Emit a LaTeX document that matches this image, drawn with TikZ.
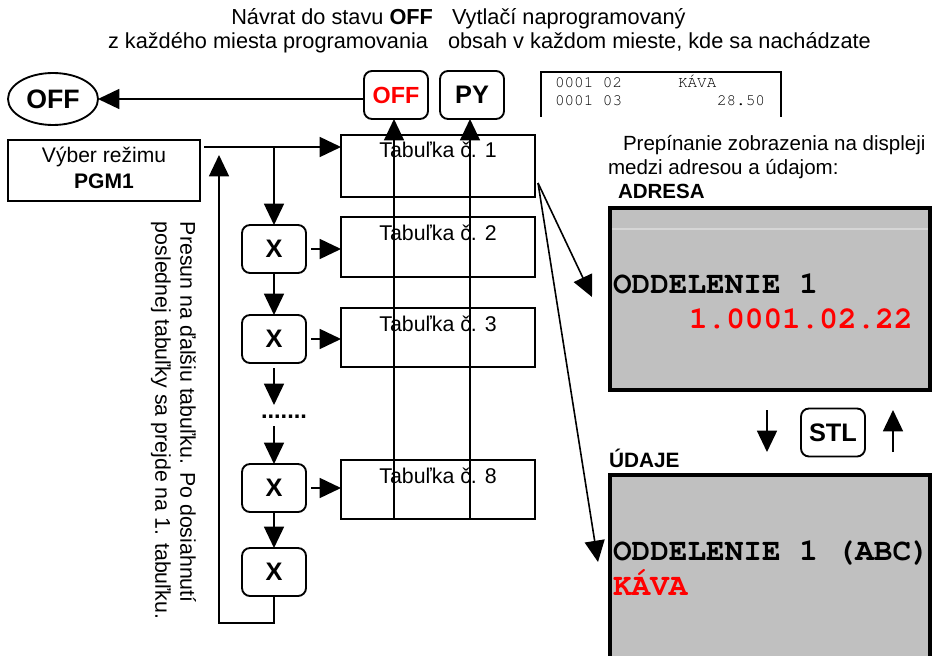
\documentclass[tikz,border=0pt]{standalone}
\usepackage[T1]{fontenc}
\usepackage{fontspec}
\setmainfont{Liberation Sans}
\usetikzlibrary{arrows.meta,shapes.geometric}
\definecolor{lcdgray}{HTML}{C0C0C0}
\definecolor{keyred}{HTML}{FF0000}
\newcommand{\courbold}{\fontencoding{T1}\fontfamily{pcr}\fontseries{b}\selectfont}
\newcommand{\courreg}{\fontencoding{T1}\fontfamily{pcr}\fontseries{m}\selectfont}
\begin{document}
\begin{tikzpicture}[x=0.75pt,y=-0.75pt,
  every node/.style={inner sep=0pt, outer sep=0pt},
  box/.style={draw, line width=1.4pt, rectangle},
  btn/.style={draw, line width=1.4pt, rounded corners=6pt, minimum width=48pt, minimum height=36pt, font=\fontsize{19}{22}\selectfont\bfseries},
  arr/.style={line width=1.2pt, -{Triangle[length=16pt,width=15pt]}},
  txt/.style={font=\fontsize{16.3}{19}\selectfont},
  txtr/.style={font=\fontsize{15.4}{18}\selectfont},
  tabtxt/.style={font=\fontsize{16}{19}\selectfont},
  lcd/.style={draw, line width=3pt, fill=lcdgray, rectangle},
  lcdtxt/.style={font=\courbold\fontsize{23.3}{26}\selectfont},
  smalltxt/.style={font=\courreg\fontsize{12}{13}\selectfont},
]
\useasboundingbox (0,0) rectangle (932,656);
\clip (0,0) rectangle (932,656);

% top explanations
\node[txt, anchor=base east] (t1) at (433,25) {Návrat do stavu \textbf{OFF}};
\node[txt, anchor=base west] (t2) at (108,49) {z každého miesta programovania};
\node[txt, anchor=base west] (t3) at (452,25) {Vytlačí naprogramovaný};
\node[txt, anchor=base west] (t4) at (448,49) {obsah v každom mieste, kde sa nachádzate};

% OFF ellipse and keys
\node[ellipse, draw, line width=1.4pt, minimum width=67.5pt, minimum height=39pt,
      font=\fontsize{20}{24}\selectfont\bfseries] (offell) at (53,99) {OFF};
\node[btn, text=keyred, font=\fontsize{17.5}{20}\selectfont\bfseries] (offbtn) at (396,95) {OFF};
\node[btn] (py) at (472,95) {PY};
\draw[arr] (offbtn.west |- offell.east) -- (offell.east);

% small printout
\draw[line width=1.3pt] (541,117) -- (541,72) -- (781,72) -- (781,117);
\node[smalltxt, anchor=base west] (p1) at (555,88) {0001 02};
\node[smalltxt, anchor=base west] (p2) at (678,88) {KÁVA};
\node[smalltxt, anchor=base west] (p3) at (555,106) {0001 03};
\node[smalltxt, anchor=base east] (p4) at (765,106) {28.50};

% mode box
\node[box, minimum width=144pt, minimum height=46pt] (vyber) at (104,170.5) {};
\node[txt, font=\fontsize{15.8}{19}\selectfont, anchor=base] (vy1) at (104,163) {Výber režimu};
\node[txt, font=\fontsize{15.8}{19}\selectfont\bfseries, anchor=base] (vy2) at (104,189) {PGM1};

% tables
\node[box, minimum width=145.5pt, minimum height=46.5pt] (tab1) at (438,166) {};
\node[tabtxt, anchor=base] (tl1) at (438,158) {Tabuľka č. 1};
\node[box, minimum width=145.5pt, minimum height=45pt] (tab2) at (438,247) {};
\node[tabtxt, anchor=base] (tl2) at (438,240) {Tabuľka č. 2};
\node[box, minimum width=145.5pt, minimum height=44.5pt] (tab3) at (438,337.5) {};
\node[tabtxt, anchor=base] (tl3) at (438,331) {Tabuľka č. 3};
\node[box, minimum width=145.5pt, minimum height=44.5pt] (tab8) at (438,489.5) {};
\node[tabtxt, anchor=base] (tl8) at (438,483) {Tabuľka č. 8};

% X keys
\node[btn] (x1) at (274,249) {X};
\node[btn] (x2) at (274,339) {X};
\node[btn] (x3) at (274,488) {X};
\node[btn] (x4) at (274,572) {X};
\node[font=\fontsize{17.7}{20}\selectfont\bfseries, anchor=base] (dots) at (284,418) {.......};

% flow connectors
\coordinate (v1) at (204,147);
\draw[arr] (v1) -- (v1 -| tab1.west);
\draw[arr] (x1.north |- v1) -- (x1.north);
\draw[arr] (x1.south) -- (x2.north);
\coordinate (d1) at (274,405);
\draw[arr, shorten <=3.75pt] (x2.south) -- (d1);
\coordinate (d2) at (274,426);
\draw[arr] (d2) -- (x3.north);
\draw[arr] (x3.south) -- (x4.north);
\draw[arr, shorten <=3.75pt] (x1.east) -- (x1.east -| tab2.west);
\draw[arr, shorten <=3.75pt] (x2.east) -- (x2.east -| tab3.west);
\draw[arr, shorten <=3.75pt] (x3.east) -- (x3.east -| tab8.west);
\coordinate (lc) at (219,623);
\coordinate (le) at (219,155);
\draw[arr] (x4.south) |- (lc) -- (le);

% vertical lines to OFF / PY
\coordinate (offl) at (394,518);
\coordinate (pyl) at (470,518);
\draw[arr] (offl) -- (offl |- offbtn.south);
\draw[arr] (pyl) -- (pyl |- py.south);

% rotated note
\node[txt, font=\fontsize{16}{19}\selectfont, rotate=-90, anchor=mid west] (n1) at (184,222) {Presun na ďalšiu tabuľku. Po dosiahnutí};
\node[txt, font=\fontsize{16}{19}\selectfont, rotate=-90, anchor=mid west] (n2) at (159,222) {poslednej tabuľky sa prejde na 1. tabuľku.};

% right side explanation
\node[txtr, anchor=base west] (r1) at (623,151) {Prepínanie zobrazenia na displeji};
\node[txtr, anchor=base west] (r2) at (608,175) {medzi adresou a údajom:};
\node[txtr, font=\fontsize{15.4}{18}\selectfont\bfseries, anchor=base west] (r3) at (618,199) {ADRESA};

% displays
\node[lcd, minimum width=240pt, minimum height=136.5pt] (adr) at (770,299) {};
\draw[white!35!lcdgray, line width=0.8pt] (612,229) -- (928,229);
\node[lcdtxt, anchor=base west] (a1) at (613,293) {ODDELENIE 1};
\node[lcdtxt, text=keyred, anchor=base west] (a2) at (689,328) {1.0001.02.22};

\node[btn] (stl) at (833,432.5) {STL};
\coordinate (sd1) at (767,410);
\coordinate (sd2) at (767,452);
\draw[arr] (sd1) -- (sd2);
\coordinate (su1) at (893,452);
\coordinate (su2) at (893,410);
\draw[arr] (su1) -- (su2);

\node[txtr, font=\fontsize{15.6}{18}\selectfont\bfseries, anchor=base west] (u0) at (609,467) {ÚDAJE};
\node[lcd, minimum width=240pt, minimum height=153.75pt] (uda) at (770,577.5) {};
\node[lcdtxt, anchor=base west] (u1) at (613,560) {ODDELENIE 1 (ABC)};
\node[lcdtxt, text=keyred, anchor=base west] (u2) at (613,595) {KÁVA};

% arrows to displays
\coordinate (sp) at (538,183);
\coordinate (ta) at (592,297);
\coordinate (tb) at (598,562);
\draw[arr] (sp) -- (ta);
\draw[arr] (sp) -- (tb);
\end{tikzpicture}
\end{document}
